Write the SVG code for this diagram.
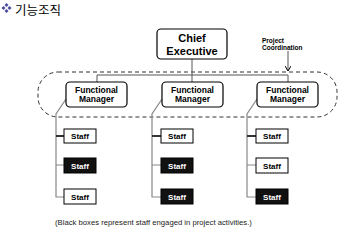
<svg xmlns="http://www.w3.org/2000/svg" width="346" height="240" viewBox="0 0 346 240">
<style>
.t{font-family:"Liberation Sans",Arial,sans-serif;font-weight:bold;text-anchor:middle;fill:#000}
.box{fill:#fff;stroke:#000;stroke-width:1.2}
.sw{fill:#fff;stroke:#000;stroke-width:1}
.sb{fill:#111;stroke:#000;stroke-width:1}
.ln{stroke:#555;stroke-width:1;fill:none}
.gl{stroke:#888;stroke-width:1.2;fill:none}
.st{font-size:8px}
</style>
<defs>
<marker id="ah" markerWidth="6" markerHeight="6" refX="5" refY="3" orient="auto" markerUnits="userSpaceOnUse">
<path d="M0,0 L5,3 L0,6" fill="none" stroke="#000" stroke-width="1"/>
</marker>
</defs>
<rect width="346" height="240" fill="#fff"/>
<g id="title">
<g fill="#4a4aa0">
<path d="M6.5,3 L8.5,5 L6.5,7 L4.5,5Z"/>
<path d="M6.5,9 L8.5,11 L6.5,13 L4.5,11Z"/>
<path d="M3.5,6 L5.5,8 L3.5,10 L1.5,8Z"/>
<path d="M9.5,6 L11.5,8 L9.5,10 L7.5,8Z"/>
</g>
<text x="15" y="14.5" font-family="'Noto Sans CJK KR',sans-serif" font-size="12.5" fill="#000">기능조직</text>
</g>
<g id="connectors">
<rect x="38" y="72" width="299" height="45" rx="20" ry="20" fill="none" stroke="#333" stroke-width="1" stroke-dasharray="4,3"/>
<path class="ln" d="M192,59 V82 M97,82 V75 H288 V82"/>
<path class="ln" d="M288,51 V71" marker-end="url(#ah)"/>
<path class="gl" d="M66,99 L56,114 V197 H64 M56,165 H64"/>
<path class="gl" d="M162,99 L152,114 V197 H161 M152,165 H161"/>
<path class="gl" d="M257,99 L247,114 V197 H256 M247,165 H256"/>
<path stroke="#333" stroke-width="1.8" d="M56,136 H64 M152,136 H161 M247,136 H256"/>
</g>
<g id="chief">
<rect class="box" x="157" y="29" width="70" height="30" rx="4"/>
<text class="t" x="192" y="42" font-size="11">Chief</text>
<text class="t" x="192" y="55" font-size="11">Executive</text>
</g>
<g id="coord">
<text class="t" x="262" y="43" font-size="6.5" style="text-anchor:start">Project</text>
<text class="t" x="262" y="49.5" font-size="6.5" style="text-anchor:start">Coordination</text>
</g>
<g id="fm1">
<rect class="box" x="66" y="82" width="61" height="25" rx="4"/>
<text class="t" x="96.5" y="93" font-size="8.5">Functional</text>
<text class="t" x="96.5" y="102" font-size="8.5">Manager</text>
</g>
<g id="fm2">
<rect class="box" x="162" y="82" width="61" height="25" rx="4"/>
<text class="t" x="192.5" y="93" font-size="8.5">Functional</text>
<text class="t" x="192.5" y="102" font-size="8.5">Manager</text>
</g>
<g id="fm3">
<rect class="box" x="257" y="82" width="61" height="25" rx="4"/>
<text class="t" x="287.5" y="93" font-size="8.5">Functional</text>
<text class="t" x="287.5" y="102" font-size="8.5">Manager</text>
</g>
<g id="s11"><rect class="sw" x="64" y="129" width="32" height="14"/><text class="t st" x="80" y="139">Staff</text></g>
<g id="s12"><rect class="sb" x="64" y="158" width="32" height="15"/><text class="t st" x="80" y="168.5" style="fill:#fff">Staff</text></g>
<g id="s13"><rect class="sw" x="64" y="189" width="32" height="15"/><text class="t st" x="80" y="199.5">Staff</text></g>
<g id="s21"><rect class="sw" x="161" y="129" width="32" height="14"/><text class="t st" x="177" y="139">Staff</text></g>
<g id="s22"><rect class="sb" x="161" y="158" width="32" height="15"/><text class="t st" x="177" y="168.5" style="fill:#fff">Staff</text></g>
<g id="s23"><rect class="sb" x="161" y="189" width="32" height="15"/><text class="t st" x="177" y="199.5" style="fill:#fff">Staff</text></g>
<g id="s31"><rect class="sw" x="256" y="129" width="32" height="14"/><text class="t st" x="272" y="139">Staff</text></g>
<g id="s32"><rect class="sw" x="256" y="158" width="32" height="15"/><text class="t st" x="272" y="168.5">Staff</text></g>
<g id="s33"><rect class="sb" x="256" y="189" width="32" height="15"/><text class="t st" x="272" y="199.5" style="fill:#fff">Staff</text></g>
<text x="55" y="225" font-family="'Liberation Sans',Arial,sans-serif" font-size="7.7" fill="#222">(Black boxes represent staff engaged in project activities.)</text>
</svg>
